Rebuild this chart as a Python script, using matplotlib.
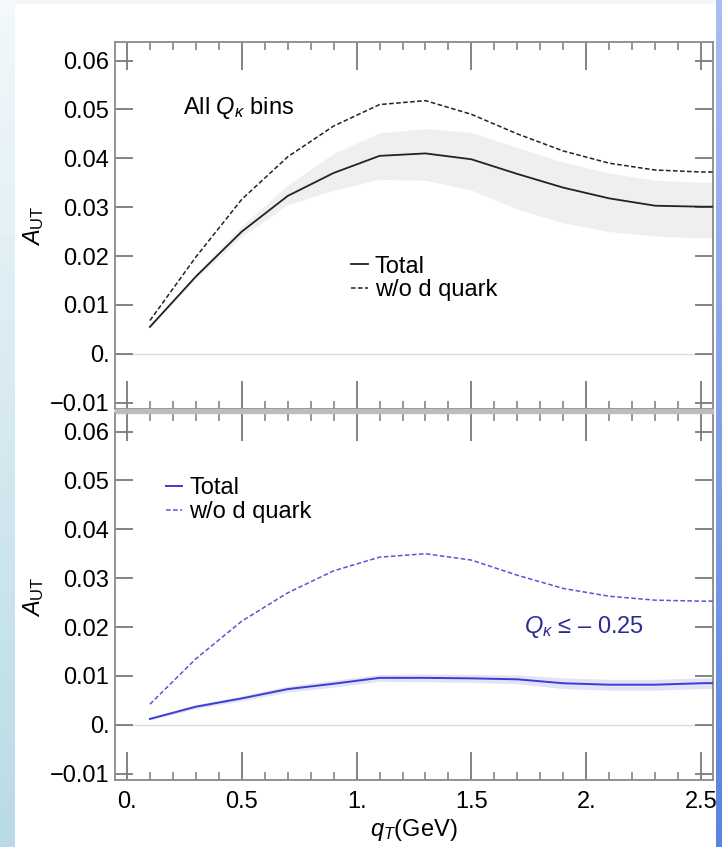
" A_UT vs q_T, all Q_kappa bins (top) and Q_kappa <= -0.25 (bottom) "
import numpy as np
import matplotlib.pyplot as plt
from matplotlib.patches import Rectangle

plt.rcParams.update({'font.family': 'Liberation Sans', 'font.size': 17,
                     'mathtext.fontset': 'custom',
                     'mathtext.rm': 'Liberation Sans',
                     'mathtext.it': 'Liberation Sans:italic'})

# q_T grid (GeV)
qT = [0.1, 0.3, 0.5, 0.7, 0.9, 1.1, 1.3, 1.5, 1.7, 1.9, 2.1, 2.3, 2.5, 2.7]

# top panel: all Q_kappa bins
all_total = [0.0055, 0.0158, 0.0250, 0.0323, 0.0370, 0.0405, 0.0410,
             0.0398, 0.0368, 0.0340, 0.0318, 0.0303, 0.0301, 0.0301]
all_nod = [0.0068, 0.0198, 0.0316, 0.0403, 0.0466, 0.0510, 0.0518,
           0.0490, 0.0450, 0.0415, 0.0390, 0.0376, 0.0372, 0.0372]
all_hi = [0.0057, 0.0163, 0.0262, 0.0345, 0.0410, 0.0452, 0.0461,
          0.0453, 0.0422, 0.0392, 0.0370, 0.0355, 0.0351, 0.0351]
all_lo = [0.0053, 0.0153, 0.0240, 0.0305, 0.0335, 0.0357, 0.0355,
          0.0335, 0.0296, 0.0268, 0.0250, 0.0241, 0.0237, 0.0237]

# bottom panel: Q_kappa <= -0.25
neg_total = [0.0012, 0.0037, 0.0054, 0.0073, 0.0084, 0.0096, 0.0096,
             0.0095, 0.0093, 0.0085, 0.0082, 0.0082, 0.0085, 0.0086]
neg_nod = [0.0042, 0.0135, 0.0212, 0.0270, 0.0315, 0.0343, 0.0350,
           0.0337, 0.0306, 0.0279, 0.0263, 0.0255, 0.0253, 0.0253]
neg_hi = [0.0014, 0.0041, 0.0059, 0.0079, 0.0091, 0.0103, 0.0104,
          0.0103, 0.0102, 0.0096, 0.0093, 0.0093, 0.0096, 0.0097]
neg_lo = [0.0010, 0.0033, 0.0049, 0.0067, 0.0077, 0.0089, 0.0088,
          0.0087, 0.0084, 0.0074, 0.0071, 0.0071, 0.0074, 0.0075]

xticks = [0, 0.5, 1.0, 1.5, 2.0, 2.5]
xticklabels = ["0.", "0.5", "1.", "1.5", "2.", "2.5"]
yticks = [-0.01, 0, 0.01, 0.02, 0.03, 0.04, 0.05, 0.06]
yticklabels = ["\u22120.01", "0.", "0.01", "0.02", "0.03", "0.04", "0.05", "0.06"]

W, H = 722, 847
fig = plt.figure(figsize=(W / 100, H / 100), dpi=100)
fig.patch.set_facecolor("white")

L, R = 115, 713
ax1 = fig.add_axes([L / W, 1 - 409 / H, (R - L) / W, 367 / H])
ax2 = fig.add_axes([L / W, 1 - 780 / H, (R - L) / W, 367 / H])

tick_c = "#7a7a7a"


def frame(ax, bottom_labels):
    " mathematica-like frame with inward ticks "
    ax.set_xlim(-0.052, 2.552)
    ax.set_ylim(-0.0113, 0.0638)
    ax.axhline(0, color="#dcdcdc", lw=1.0, zorder=1)
    ax.set_xticks(xticks)
    ax.set_xticks(np.arange(0.1, 2.55, 0.1), minor=True)
    ax.set_yticks(yticks)
    ax.set_yticklabels(yticklabels)
    if bottom_labels:
        ax.set_xticklabels(xticklabels)
    else:
        ax.set_xticklabels([])
    ax.tick_params(axis="x", which="major", direction="in", length=20,
                   width=1.3, color=tick_c, top=True, pad=8)
    ax.tick_params(axis="x", which="minor", direction="in", length=5.5,
                   width=1.1, color=tick_c, top=True)
    ax.tick_params(axis="y", which="major", direction="in", length=13,
                   width=1.3, color=tick_c, right=True, pad=4)
    for sp in ax.spines.values():
        sp.set_color("#8a8a8a")
        sp.set_linewidth(1.3)
    ax.set_ylabel("$A_{\\mathrm{UT}}$", fontsize=17)
    ax.yaxis.set_label_coords(-0.115, 0.5)


frame(ax1, False)
frame(ax2, True)

ax1.fill_between(qT, all_lo, all_hi, color="#efefef", lw=0, zorder=1)
ax1.plot(qT, all_total, color="#222222", lw=1.3, label="Total", zorder=3)
ax1.plot(qT, all_nod, color="#222222", lw=1.1, ls=(0, (3, 1.6)),
         label="w/o d quark", zorder=3)
ax1.legend(loc="upper left", bbox_to_anchor=(0.395, 0.418), frameon=False,
           borderpad=0, borderaxespad=0, handlelength=0.7,
           handletextpad=0.3, labelspacing=0.08, fontsize=17)
ax1.text(0.114, 0.82, "All $Q_{\\kappa}$ bins", transform=ax1.transAxes,
         va="center", ha="left", fontsize=17)

blue = "#3c3cd2"
ax2.fill_between(qT, neg_lo, neg_hi, color="#e2e2f8", lw=0, zorder=1)
ax2.plot(qT, neg_total, color=blue, lw=1.4, label="Total", zorder=3)
ax2.plot(qT, neg_nod, color="#5656d6", lw=1.1, ls=(0, (3, 1.6)),
         label="w/o d quark", zorder=3)
ax2.legend(loc="upper left", bbox_to_anchor=(0.085, 0.825), frameon=False,
           borderpad=0, borderaxespad=0, handlelength=0.7,
           handletextpad=0.3, labelspacing=0.08, fontsize=17)
ax2.text(0.684, 0.417, "$Q_{\\kappa}$ \u2264 \u2013 0.25", transform=ax2.transAxes,
         va="center", ha="left", fontsize=17, color="#2c2c94")
ax2.set_xlabel("$q_T$(GeV)", fontsize=17)
ax2.xaxis.set_label_coords(0.5, -0.1)

# gray seam between the two frames
fig.patches.append(Rectangle((L / W, 1 - 413 / H), (R - L) / W, 4 / H,
                             transform=fig.transFigure, color="#bdbdbd",
                             zorder=0))

# slide border strips
left = fig.add_axes([0, 0, 15 / W, 1], zorder=5)
left.imshow(np.linspace(0, 1, 50).reshape(-1, 1), aspect="auto",
            cmap=plt.matplotlib.colors.LinearSegmentedColormap.from_list(
                "l", ["#f2f8fb", "#b9dbe6"]), extent=[0, 1, 0, 1],
            origin="upper")
left.axis("off")
right = fig.add_axes([716 / W, 0, 6 / W, 1], zorder=5)
right.imshow(np.linspace(0, 1, 50).reshape(-1, 1), aspect="auto",
             cmap=plt.matplotlib.colors.LinearSegmentedColormap.from_list(
                 "r", ["#a9bdf0", "#5a84e2"]), extent=[0, 1, 0, 1],
             origin="upper")
right.axis("off")
top = fig.add_axes([15 / W, 1 - 4 / H, 701 / W, 4 / H], zorder=5)
top.set_facecolor("#f1f7fb")
top.set_xticks([])
top.set_yticks([])
for sp in top.spines.values():
    sp.set_visible(False)

fig.savefig("out.png", dpi=100)
